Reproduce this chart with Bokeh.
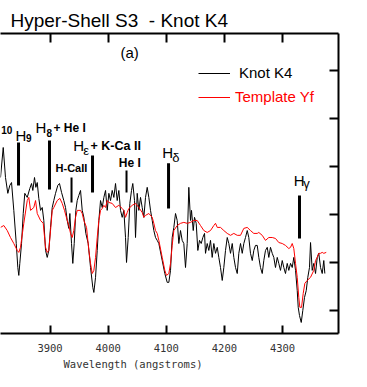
from bokeh.plotting import figure
from bokeh.models import LinearAxis, Range1d, FixedTicker, Label, Legend, LegendItem, Title
from bokeh.core.properties import value
from bokeh.embed import file_html
from bokeh.resources import INLINE

# ---------------- data (wavelength in Angstrom, relative flux) ----------------
knot_wl = [3814.8, 3819.5, 3823.4, 3827.4, 3830.8, 3833.8, 3837.7, 3841.9, 3844.6, 3846.3,
           3848.0, 3851.0, 3853.9, 3856.6, 3860.8, 3865.2, 3868.2, 3870.4, 3873.3, 3875.6,
           3878.0, 3880.7, 3883.7, 3886.6, 3889.3, 3892.3, 3895.2, 3897.9, 3900.9, 3903.8,
           3906.5, 3909.5, 3913.4, 3916.3, 3919.8, 3923.7, 3926.7, 3929.6, 3932.3, 3934.1,
           3937.0, 3939.2, 3941.6, 3944.4, 3946.8, 3949.5, 3952.5, 3955.4, 3958.2, 3961.6,
           3965.7, 3969.7, 3973.6, 3975.4, 3978.3, 3981.2, 3984.0, 3986.9, 3989.8, 3992.6,
           3995.5, 3998.4, 4001.2, 4004.1, 4007.0, 4009.8, 4012.7, 4015.6, 4018.4, 4021.3,
           4024.2, 4027.0, 4029.9, 4031.6, 4034.5, 4037.3, 4040.2, 4042.4, 4045.4, 4047.1,
           4050.0, 4052.8, 4055.7, 4058.6, 4061.4, 4064.3, 4067.2, 4070.0, 4072.9, 4075.8,
           4078.6, 4081.5, 4084.4, 4087.2, 4093.0, 4097.5, 4101.6, 4104.4, 4107.3, 4110.2,
           4113.0, 4115.9, 4118.8, 4121.6, 4124.5, 4127.4, 4130.2, 4133.1, 4136.0, 4138.8,
           4141.7, 4143.4, 4146.4, 4148.6, 4151.5, 4154.3, 4157.2, 4160.1, 4162.9, 4165.8,
           4167.5, 4170.4, 4173.2, 4176.1, 4179.0, 4181.8, 4184.7, 4187.7, 4190.4, 4193.3,
           4196.3, 4199.0, 4201.9, 4204.9, 4207.6, 4210.5, 4213.5, 4216.2, 4219.1, 4222.1,
           4224.8, 4227.7, 4230.7, 4233.4, 4236.3, 4239.3, 4242.0, 4244.9, 4247.9, 4250.6,
           4253.5, 4256.5, 4259.2, 4262.1, 4265.1, 4267.8, 4270.7, 4273.7, 4276.4, 4279.3,
           4282.3, 4285.0, 4287.9, 4290.9, 4293.6, 4296.5, 4299.5, 4302.2, 4305.1, 4308.1,
           4310.8, 4313.8, 4316.7, 4319.4, 4322.4, 4325.3, 4327.0, 4329.2, 4332.2, 4334.9,
           4337.8, 4340.8, 4343.5, 4346.4, 4348.2, 4351.1, 4353.8, 4356.8, 4359.7, 4362.4,
           4365.4, 4368.3, 4371.0, 4372.8]
knot_flux = [1.354, 1.479, 1.354, 1.288, 1.321, 1.333, 1.217, 1.079, 0.979, 0.946,
             0.996, 1.079, 1.204, 1.288, 1.271, 1.308, 1.329, 1.300, 1.354, 1.313,
             1.333, 1.267, 1.217, 1.229, 1.175, 1.050, 1.021, 1.050, 1.146, 1.229,
             1.258, 1.288, 1.321, 1.329, 1.292, 1.258, 1.229, 1.175, 1.142, 1.204,
             1.079, 0.996, 1.079, 1.217, 1.258, 1.279, 1.300, 1.217, 1.188, 1.121,
             1.079, 0.979, 0.896, 0.875, 0.938, 1.050, 1.175, 1.258, 1.229, 1.271,
             1.300, 1.217, 1.288, 1.258, 1.300, 1.271, 1.329, 1.258, 1.300, 1.217,
             1.188, 1.217, 1.104, 1.000, 1.104, 1.246, 1.300, 1.329, 1.258, 1.104,
             1.288, 1.217, 1.271, 1.229, 1.188, 1.271, 1.313, 1.271, 1.217, 1.175,
             1.133, 1.104, 1.092, 1.079, 1.008, 0.954, 0.917, 0.917, 0.967, 1.104,
             1.146, 1.204, 1.175, 1.079, 1.133, 1.092, 1.079, 0.979, 1.079, 1.313,
             1.175, 1.217, 1.133, 1.188, 1.163, 1.050, 1.092, 1.079, 1.104, 1.121,
             1.038, 1.079, 1.050, 1.092, 1.021, 1.079, 1.038, 1.063, 1.021, 0.979,
             0.925, 0.979, 1.050, 1.104, 1.079, 1.038, 1.079, 1.021, 0.979, 0.954,
             1.038, 1.079, 1.038, 1.079, 1.104, 1.133, 1.104, 1.038, 1.008, 1.050,
             1.071, 1.071, 1.021, 0.979, 0.954, 1.008, 1.050, 1.063, 1.021, 1.063,
             1.038, 1.021, 0.979, 1.021, 0.996, 0.967, 1.008, 0.979, 0.954, 0.996,
             0.967, 0.996, 0.979, 1.021, 0.967, 0.883, 0.813, 0.779, 0.750, 0.800,
             0.854, 0.883, 0.938, 0.979, 1.083, 0.967, 0.996, 0.954, 1.021, 1.038,
             0.979, 0.954, 1.008, 0.954]

tmpl_wl = [3814.8, 3820.5, 3826.4, 3832.0, 3837.7, 3843.6, 3846.3, 3849.2, 3854.9, 3860.8,
           3863.5, 3866.5, 3872.1, 3875.1, 3878.0, 3883.7, 3888.3, 3892.3, 3895.2, 3897.9,
           3900.9, 3903.8, 3906.5, 3912.4, 3916.9, 3921.0, 3924.9, 3929.6, 3932.3, 3935.3,
           3938.2, 3940.9, 3943.9, 3946.8, 3952.5, 3955.4, 3958.2, 3962.8, 3966.8, 3969.7,
           3972.6, 3975.4, 3978.3, 3981.2, 3984.0, 3986.9, 3989.8, 3992.6, 3995.5, 3998.4,
           4001.2, 4007.0, 4012.7, 4018.4, 4024.2, 4027.0, 4029.9, 4032.8, 4035.6, 4041.4,
           4047.1, 4052.8, 4058.6, 4061.4, 4064.3, 4070.0, 4075.8, 4078.6, 4081.5, 4084.4,
           4087.2, 4093.0, 4097.5, 4100.4, 4104.4, 4107.3, 4110.2, 4113.0, 4118.8, 4124.5,
           4130.2, 4136.0, 4141.7, 4147.4, 4153.2, 4158.9, 4164.6, 4170.4, 4176.1, 4181.8,
           4184.7, 4187.7, 4193.3, 4199.0, 4204.9, 4210.5, 4216.2, 4222.1, 4227.7, 4233.4,
           4239.3, 4244.9, 4250.6, 4256.5, 4259.2, 4265.1, 4270.7, 4276.4, 4282.3, 4287.9,
           4293.6, 4299.5, 4305.1, 4310.8, 4313.8, 4316.7, 4319.4, 4322.4, 4325.3, 4328.0,
           4329.8, 4332.7, 4335.6, 4338.4, 4342.5, 4348.2, 4353.8, 4356.8, 4359.7, 4362.4,
           4365.4, 4368.3, 4371.0, 4375.2]
tmpl_flux = [1.146, 1.154, 1.133, 1.104, 1.079, 1.050, 1.042, 1.063, 1.163, 1.258,
             1.271, 1.217, 1.229, 1.258, 1.204, 1.175, 1.163, 1.063, 1.042, 1.050,
             1.133, 1.217, 1.229, 1.258, 1.267, 1.246, 1.217, 1.175, 1.154, 1.121,
             1.104, 1.133, 1.188, 1.217, 1.217, 1.204, 1.175, 1.146, 1.050, 0.996,
             0.954, 0.967, 1.021, 1.104, 1.175, 1.217, 1.225, 1.238, 1.229, 1.258,
             1.250, 1.246, 1.229, 1.238, 1.225, 1.217, 1.188, 1.208, 1.225, 1.238,
             1.246, 1.229, 1.208, 1.188, 1.196, 1.204, 1.188, 1.163, 1.133, 1.121,
             1.092, 1.021, 0.967, 0.946, 0.954, 0.996, 1.071, 1.133, 1.154, 1.163,
             1.167, 1.163, 1.167, 1.175, 1.175, 1.154, 1.133, 1.125, 1.133, 1.154,
             1.163, 1.146, 1.146, 1.133, 1.121, 1.113, 1.121, 1.113, 1.113, 1.142,
             1.146, 1.133, 1.121, 1.121, 1.125, 1.113, 1.092, 1.104, 1.104, 1.100,
             1.083, 1.079, 1.071, 1.058, 1.063, 1.079, 1.058, 0.996, 0.938, 0.854,
             0.813, 0.813, 0.871, 0.913, 0.925, 0.938, 0.967, 1.008, 1.021, 1.038,
             1.038, 1.042, 1.038, 1.042]

x_ticks = [3900, 4000, 4100, 4200, 4300]
y_ticks = [0.8, 1.0, 1.2, 1.4, 1.6, 1.8]

# spectral-line markers
mark_wl = [3845.8, 3899.1, 3937.0, 3973.1, 4031.6, 4103.9, 4329.2]
mark_top = [1.500, 1.508, 1.354, 1.446, 1.383, 1.413, 1.279]
mark_bot = [1.321, 1.304, 1.250, 1.292, 1.292, 1.225, 1.100]
mark_w = [3, 3, 2, 3, 2, 3, 3]

# line labels: big "H", subscripts, bold extra text
h_wl = [3840.6, 3875.1, 3939.9, 4093.0, 4319.4]
h_flux = [1.528, 1.562, 1.487, 1.458, 1.342]
num_text = ["10", "9", "8"]
num_wl = [3816.0, 3858.7, 3894.0]
num_flux = [1.550, 1.520, 1.540]
greek_text = ["ε", "δ", "γ"]
greek_wl = [3957.1, 4110.2, 4335.6]
greek_flux = [1.466, 1.437, 1.330]
bold_text = ["+ He I", "H-CaII", "+ K-Ca II", "He I"]
bold_wl = [3906.0, 3909.5, 3969.7, 4018.4]
bold_flux = [1.562, 1.395, 1.487, 1.416]
bold_size = ["12px", "11px", "12.5px", "12px"]

SANS = "Liberation Sans"

p = figure(frame_width=338, frame_height=300, title=None,
           x_range=Range1d(3814.8, 4396.3), y_range=Range1d(0.704, 1.954),
           output_backend="svg", toolbar_location=None,
           x_axis_location=None, y_axis_location=None,
           min_border_left=0, min_border_right=12, min_border_top=33, min_border_bottom=46)
p.outline_line_color = None
for g in p.grid:
    g.visible = False

bottom = LinearAxis(ticker=FixedTicker(ticks=x_ticks), major_tick_in=8, major_tick_out=0,
                    minor_tick_line_color=None, axis_line_width=2, major_tick_line_width=2,
                    major_label_text_font="DejaVu Sans Mono", major_label_text_font_size="10.5px",
                    major_label_text_color="#333333", major_label_standoff=10)
p.add_layout(bottom, "below")
top = LinearAxis(ticker=FixedTicker(ticks=x_ticks), major_tick_in=9, major_tick_out=0,
                 minor_tick_line_color=None, axis_line_width=2, major_tick_line_width=2,
                 major_label_overrides={t: "" for t in x_ticks}, major_label_standoff=0)
p.add_layout(top, "above")
right = LinearAxis(ticker=FixedTicker(ticks=y_ticks), major_tick_in=9, major_tick_out=0,
                   minor_tick_line_color=None, axis_line_width=2, major_tick_line_width=2,
                   major_label_overrides={t: "" for t in y_ticks}, major_label_standoff=0)
p.add_layout(right, "right")

p.add_layout(Title(text="Hyper-Shell S3\u00a0 - Knot K4", align="left", offset=10,
                   text_font=SANS, text_font_size="19px", text_font_style="normal",
                   text_color="black", standoff=6), "above")
p.add_layout(Title(text="Wavelength (angstroms)", align="left", offset=63,
                   text_font="DejaVu Sans Mono", text_font_size="10.5px",
                   text_font_style="normal", text_color="#333333", standoff=2), "below")

knot = p.line(knot_wl, knot_flux, line_color="black", line_width=1)
tmpl = p.line(tmpl_wl, tmpl_flux, line_color="#ff0000", line_width=1)

p.segment(x0=mark_wl, x1=mark_wl, y0=mark_bot, y1=mark_top, line_color="black", line_width=mark_w)

p.text(x=h_wl, y=h_flux, text=["H"] * len(h_wl), text_font=value(SANS), text_font_size="15px",
       text_color="black", text_baseline="alphabetic")
p.text(x=num_wl, y=num_flux, text=num_text, text_font=value(SANS), text_font_size="10px",
       text_font_style="bold", text_color="black", text_baseline="alphabetic")
p.text(x=greek_wl, y=greek_flux, text=greek_text, text_font=value(SANS), text_font_size="13px",
       text_color="black", text_baseline="alphabetic")
p.text(x=bold_wl, y=bold_flux, text=bold_text, text_font=value(SANS), text_font_size=bold_size,
       text_font_style="bold", text_color="black", text_baseline="alphabetic")

p.add_layout(Label(x=4021.3, y=1.875, text="(a)", text_font=SANS, text_font_size="15px",
                   text_color="black", text_baseline="alphabetic"))

leg1 = Legend(items=[LegendItem(label="Knot K4", renderers=[knot])], location=(198, 252),
              padding=0, margin=0, spacing=0, glyph_width=32, glyph_height=16, label_height=16,
              label_standoff=9, label_text_font=SANS, label_text_font_size="15px",
              label_text_color="black", border_line_color=None, background_fill_alpha=0)
leg2 = Legend(items=[LegendItem(label="Template Yf", renderers=[tmpl])], location=(198, 228),
              padding=0, margin=0, spacing=0, glyph_width=32, glyph_height=16, label_height=16,
              label_standoff=5, label_text_font=SANS, label_text_font_size="15px",
              label_text_color="#ff0000", border_line_color=None, background_fill_alpha=0)
p.add_layout(leg1)
p.add_layout(leg2)

open("out.html", "w").write(file_html(p, INLINE))
